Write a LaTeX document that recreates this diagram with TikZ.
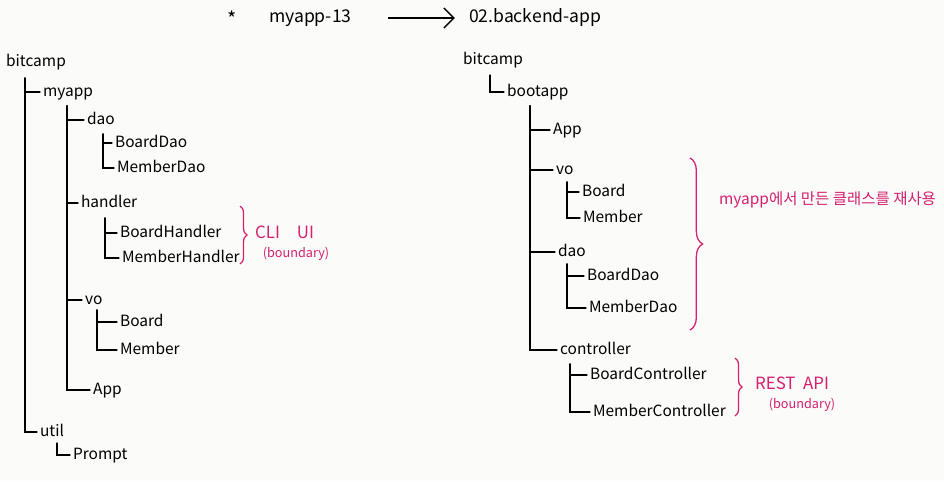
\documentclass[tikz,border=0pt]{standalone}
\usepackage{fontspec}
\setmainfont{Noto Sans CJK KR}
\usetikzlibrary{arrows.meta,decorations.pathreplacing}
\definecolor{penpink}{HTML}{D4206E}
\definecolor{paper}{HTML}{FBFBF9}
\tikzset{
  item/.style={anchor=west, inner sep=2pt, text height=8pt, text depth=2pt,
               font=\fontsize{11}{13}\selectfont},
  tree/.style={line width=0.9pt, draw=black, line cap=round},
  note/.style={anchor=west, inner sep=2pt, text=penpink, font=\fontsize{12}{14}\selectfont},
  small/.style={inner sep=1pt, text=penpink, font=\fontsize{9}{11}\selectfont},
  curly/.style={decorate, decoration={brace, amplitude=#1}, draw=penpink, line width=0.9pt},
  arr/.style={-{Straight Barb[length=2.5mm]}, line width=0.9pt, shorten <=24pt, shorten >=8pt},
}
\begin{document}
\begin{tikzpicture}[x=0.025cm, y=-0.025cm]
  \useasboundingbox[fill=paper] (0,0) rectangle (944,481);

  % title
  \node[item, font=\fontsize{14}{16}\selectfont] (star) at (224,22) {*};
  \node[item, font=\fontsize{12.5}{15}\selectfont] (from) at (266,18) {myapp-13};
  \node[item, font=\fontsize{12.5}{15}\selectfont] (to) at (466,18) {02.backend-app};
  \draw[arr] (from) -- (to);

  % left tree: myapp-13
  \node[item] (lbit) at (3,62) {bitcamp};
  \node[item] (lmyapp) at (40,92) {myapp};
  \node[item] (ldao) at (84,120) {dao};
  \node[item] (lbdao) at (112,143) {BoardDao};
  \node[item] (lmdao) at (114,168) {MemberDao};
  \node[item] (lhandler) at (78,203) {handler};
  \node[item] (lbh) at (117,233) {BoardHandler};
  \node[item] (lmh) at (119,258) {MemberHandler};
  \node[item] (lvo) at (82,300) {vo};
  \node[item] (lboard) at (117,322) {Board};
  \node[item] (lmember) at (117,350) {Member};
  \node[item] (lapp) at (90,390) {App};
  \node[item] (lutil) at (37,432) {util};
  \node[item] (lprompt) at (70,455) {Prompt};

  \coordinate (t1) at (25,78);
  \coordinate (t2) at (67,106);
  \coordinate (t3) at (103,134);
  \coordinate (t4) at (105,218);
  \coordinate (t5) at (97,310);
  \coordinate (t6) at (57,443);
  \draw[tree] (t1) |- (lmyapp.west);
  \draw[tree] (t1) |- (lutil.west);
  \foreach \n in {ldao,lhandler,lvo,lapp} \draw[tree] (t2) |- (\n.west);
  \foreach \n in {lbdao,lmdao} \draw[tree] (t3) |- (\n.west);
  \foreach \n in {lbh,lmh} \draw[tree] (t4) |- (\n.west);
  \foreach \n in {lboard,lmember} \draw[tree] (t5) |- (\n.west);
  \draw[tree] (t6) |- (lprompt.west);

  \draw[curly=5pt] (240,206) -- (240,264);
  \node[note] (cli) at (252,232) {CLI\quad UI};
  \node[small] (clib) at (296,254) {(boundary)};

  % right tree: 02.backend-app
  \node[item] (rbit) at (460,60) {bitcamp};
  \node[item] (rboot) at (504,92) {bootapp};
  \node[item] (rapp) at (550,130) {App};
  \node[item] (rvo) at (553,170) {vo};
  \node[item] (rboard) at (579,192) {Board};
  \node[item] (rmember) at (580,218) {Member};
  \node[item] (rdao) at (555,252) {dao};
  \node[item] (rbdao) at (584,276) {BoardDao};
  \node[item] (rmdao) at (586,308) {MemberDao};
  \node[item] (rctrl) at (557,350) {controller};
  \node[item] (rbc) at (587,375) {BoardController};
  \node[item] (rmc) at (590,412) {MemberController};

  \coordinate (s1) at (490,75);
  \coordinate (s2) at (530,106);
  \coordinate (s3) at (567,182);
  \coordinate (s4) at (567,264);
  \coordinate (s5) at (570,364);
  \draw[tree] (s1) |- (rboot.west);
  \foreach \n in {rapp,rvo,rdao,rctrl} \draw[tree] (s2) |- (\n.west);
  \foreach \n in {rboard,rmember} \draw[tree] (s3) |- (\n.west);
  \foreach \n in {rbdao,rmdao} \draw[tree] (s4) |- (\n.west);
  \foreach \n in {rbc,rmc} \draw[tree] (s5) |- (\n.west);

  \draw[curly=9pt] (690,158) -- (690,330);
  \node[note, font=\fontsize{11}{13}\selectfont] (reuse) at (716,200) {myapp에서 만든 클래스를 재사용};

  \draw[curly=5pt] (735,358) -- (735,416);
  \node[note] (rest) at (752,383) {REST\ \ API};
  \node[small] (restb) at (802,405) {(boundary)};
\end{tikzpicture}
\end{document}
